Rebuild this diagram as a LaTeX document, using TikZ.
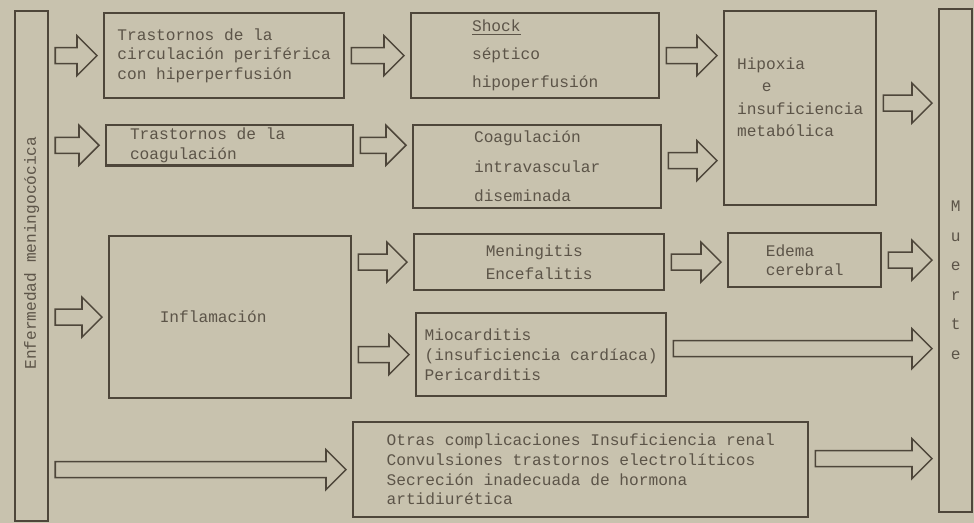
\documentclass[tikz,border=0pt]{standalone}
\usepackage{fontspec}
\setmonofont{Liberation Mono}
\usetikzlibrary{calc}

\definecolor{paper}{RGB}{200,194,174}
\definecolor{ink}{RGB}{78,70,58}
\definecolor{typeink}{RGB}{92,84,72}

\newcommand{\arrgap}{0.15cm}
\newcommand{\arrshaft}{0.2cm}
\newcommand{\arrhead}{0.5cm}
\newcommand{\arrlen}{0.5cm}
% hollow block arrow, y taken from the start point
\newcommand{\blockarrow}[2]{%
  \draw[hollow] let \p1=#1, \p2=#2 in
    (\x1+\arrgap,\y1+\arrshaft) -- (\x2-\arrgap-\arrlen,\y1+\arrshaft)
    -- (\x2-\arrgap-\arrlen,\y1+\arrhead) -- (\x2-\arrgap,\y1)
    -- (\x2-\arrgap-\arrlen,\y1-\arrhead) -- (\x2-\arrgap-\arrlen,\y1-\arrshaft)
    -- (\x1+\arrgap,\y1-\arrshaft) -- cycle;}

\begin{document}
\begin{tikzpicture}[x=0.025cm, y=-0.025cm,
  box/.style={draw=ink, line width=1.6pt, anchor=north west, align=left, inner sep=2pt,
    text=typeink, font=\ttfamily\fontsize{11.5}{14}\selectfont},
  hollow/.style={draw=ink, line width=1.1pt, line join=miter}]
\useasboundingbox (0,0) rectangle (974,523);
\fill[paper] (0,0) rectangle (974,523);

\node[box, minimum width=0.825cm, minimum height=12.75cm] (lbox) at (14,10) {\rotatebox{90}{\hspace*{0.65cm}Enfermedad meningocócica}};
\node[box, minimum width=0.825cm, minimum height=12.575cm, align=center] (muerte) at (938,8) {\mbox{}\\[0.75cm]M\\[7pt]u\\[7pt]e\\[7pt]r\\[7pt]t\\[7pt]e};

% upper rows
\node[box, minimum width=6cm, minimum height=2.125cm] (circ) at (103,12) {Trastornos de la\\circulación periférica\\con hiperperfusión};
\node[box, minimum width=6.175cm, minimum height=1cm] (coag) at (105,124) {Trastornos de la\hspace*{1.1cm}\\coagulación};
\node[box, minimum width=6.2cm, minimum height=2.125cm] (shock) at (410,12) {\underline{Shock}\\[6pt]séptico\\[6pt]hipoperfusión};
\node[box, minimum width=6.2cm, minimum height=2.075cm] (civd) at (412,124) {Coagulación\\[7pt]intravascular\\[7pt]diseminada};
\node[box, minimum width=3.8cm, minimum height=4.85cm] (hipox) at (723,10) {Hipoxia\\[2pt]\hspace*{0.62cm}e\\[2pt]insuficiencia\\[2pt]metabólica\\[2pt]\mbox{}};

% inflammation
\node[box, minimum width=6.05cm, minimum height=4.05cm] (infl) at (108,235) {Inflamación\hspace*{0.85cm}};
\node[box, minimum width=6.25cm, minimum height=1.4cm] (menin) at (413,233) {Meningitis\\[2pt]Encefalitis};
\node[box, minimum width=3.825cm, minimum height=1.35cm] (edema) at (727,232) {Edema\\cerebral};
\node[box, minimum width=6.25cm, minimum height=2.075cm] (mio) at (415,312) {Miocarditis\\(insuficiencia cardíaca)\\Pericarditis};

% other complications
\node[box, minimum width=11.375cm, minimum height=2.375cm] (otras) at (352,421) {Otras complicaciones Insuficiencia renal\\Convulsiones trastornos electrolíticos\\Secreción inadecuada de hormona\\artidiurética};

\blockarrow{(lbox.east |- circ.west)}{(circ.west)}
\blockarrow{(lbox.east |- coag.west)}{(coag.west)}
\blockarrow{(circ.east)}{(shock.west)}
\blockarrow{(coag.east)}{(civd.west)}
\blockarrow{(shock.east)}{(hipox.west)}
\blockarrow{($(civd.east)+(0,-6)$)}{(hipox.west)}
\blockarrow{($(hipox.east)+(0,-5)$)}{(muerte.west)}
\blockarrow{(lbox.east |- infl.west)}{(infl.west)}
\blockarrow{(infl.east |- menin.west)}{(menin.west)}
\blockarrow{(infl.east |- mio.west)}{(mio.west)}
\blockarrow{(menin.east)}{(edema.west)}
\blockarrow{(edema.east)}{(muerte.west)}
\blockarrow{($(mio.east)+(0,-6)$)}{(muerte.west)}
\blockarrow{(lbox.east |- otras.west)}{(otras.west)}
\blockarrow{($(otras.east)+(0,-11)$)}{(muerte.west)}
\end{tikzpicture}
\end{document}
